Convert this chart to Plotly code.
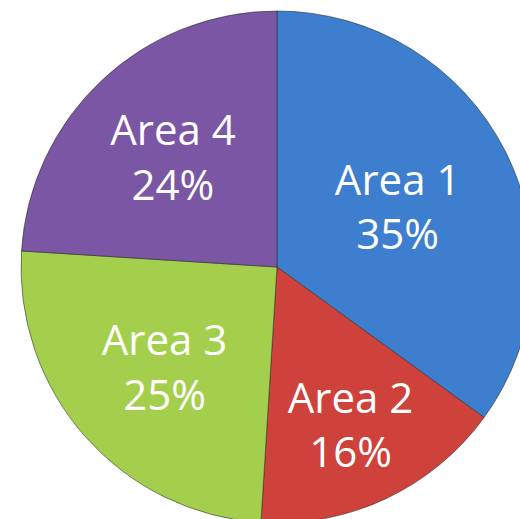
import plotly.graph_objects as go

# slice data, clockwise from 12 o'clock
areas = ["Area 1", "Area 2", "Area 3", "Area 4"]
shares = [35, 16, 25, 24]
colors = ["#3D7ECE", "#CF423B", "#A3CF4C", "#7A56A5"]

# figure is a bit larger than the window so the pie runs off the right/bottom edge
W, H = 560, 545

fig = go.Figure(
    go.Pie(
        labels=areas,
        values=shares,
        sort=False,
        direction="clockwise",
        rotation=0,
        marker=dict(colors=colors, line=dict(color="rgba(40,40,40,0.55)", width=1)),
        textinfo="label+percent",
        textposition="inside",
        insidetextorientation="horizontal",
        textfont=dict(family="Open Sans", size=42, color="white"),
        hoverinfo="label+percent",
        showlegend=False,
        domain=dict(x=[21 / W, 533 / W], y=[22 / H, 534 / H]),
    )
)
fig.update_layout(
    width=W,
    height=H,
    margin=dict(l=0, r=0, t=0, b=0),
    paper_bgcolor="white",
    uniformtext=dict(minsize=42, mode="show"),
)

post = (
    "document.body.style.margin='0';"
    "document.body.style.overflow='hidden';"
    "document.documentElement.style.overflow='hidden';"
)
fig.write_html("out.html", post_script=post, config={"displayModeBar": False})
